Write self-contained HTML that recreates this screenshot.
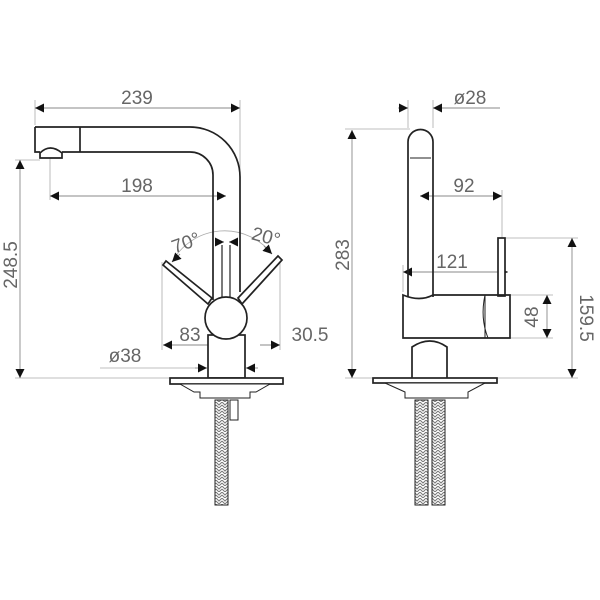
<!DOCTYPE html>
<html><head><meta charset="utf-8"><style>
html,body{margin:0;padding:0;background:#fff;}
svg{display:block;}
text{font-family:"Liberation Sans",sans-serif;fill:#666;font-size:19px;}
</style></head><body>
<svg width="600" height="600" viewBox="0 0 600 600" xmlns="http://www.w3.org/2000/svg">
<defs>
<marker id="a" viewBox="0 0 10 10" refX="10" refY="5" markerWidth="9" markerHeight="9" orient="auto-start-reverse" markerUnits="userSpaceOnUse"><path d="M0,0 L10,5 L0,10z" fill="#111"/></marker>
<pattern id="h" width="6" height="6" patternUnits="userSpaceOnUse"><path d="M0,0 L3,3 L6,0 M0,3 L3,6 L6,3" stroke="#777" stroke-width="1" fill="none"/></pattern>
</defs>
<g stroke="#aaa" stroke-width="0.8" fill="none">
<line x1="35" y1="100" x2="35" y2="125"/><line x1="240" y1="100" x2="240" y2="175"/>
<line x1="50" y1="158" x2="50" y2="200"/><line x1="15" y1="160" x2="40" y2="160"/>
<line x1="15" y1="378" x2="170" y2="378"/>
<line x1="162" y1="262" x2="162" y2="350"/><line x1="280" y1="258" x2="280" y2="350"/>
<line x1="226" y1="335" x2="226" y2="350"/>
<line x1="100" y1="368" x2="205" y2="368"/>
<path d="M172,262 A60,60 0 0 1 272,254"/>
<line x1="408" y1="100" x2="408" y2="128"/><line x1="433" y1="100" x2="433" y2="128"/>
<line x1="345" y1="129" x2="410" y2="129"/>
<line x1="345" y1="378" x2="375" y2="378"/>
<line x1="502" y1="190" x2="502" y2="238"/>
<line x1="505" y1="238" x2="578" y2="238"/>
<line x1="510" y1="295" x2="553" y2="295"/><line x1="510" y1="338" x2="553" y2="338"/>
<line x1="495" y1="378" x2="578" y2="378"/>
<line x1="403" y1="265" x2="403" y2="292"/>
</g>
<g stroke="#888" stroke-width="0.9" fill="none">
<line x1="35" y1="108" x2="240" y2="108" marker-start="url(#a)" marker-end="url(#a)"/>
<line x1="50" y1="196" x2="226" y2="196" marker-start="url(#a)" marker-end="url(#a)"/>
<line x1="20" y1="160" x2="20" y2="378" marker-start="url(#a)" marker-end="url(#a)"/>
<line x1="163" y1="345" x2="208" y2="345" marker-start="url(#a)"/>
<line x1="215" y1="242" x2="224" y2="242" marker-end="url(#a)"/>
<line x1="238" y1="242" x2="229" y2="242" marker-end="url(#a)"/>
<line x1="172" y1="262" x2="180" y2="254" marker-start="url(#a)"/>
<line x1="272" y1="254" x2="264" y2="246" marker-start="url(#a)"/>
<line x1="215" y1="345" x2="224" y2="345" marker-end="url(#a)"/>
<line x1="238" y1="345" x2="229" y2="345" marker-end="url(#a)"/>
<line x1="260" y1="345" x2="280" y2="345" marker-end="url(#a)"/>
<line x1="195" y1="368" x2="207" y2="368" marker-end="url(#a)"/>
<line x1="258" y1="368" x2="246" y2="368" marker-end="url(#a)"/>
<line x1="398" y1="108" x2="408" y2="108" marker-end="url(#a)"/>
<line x1="500" y1="108" x2="433" y2="108" marker-end="url(#a)"/>
<line x1="352" y1="130" x2="352" y2="378" marker-start="url(#a)" marker-end="url(#a)"/>
<line x1="420" y1="196" x2="502" y2="196" marker-start="url(#a)" marker-end="url(#a)"/>
<line x1="403" y1="272" x2="508" y2="272" marker-start="url(#a)" marker-end="url(#a)"/>
<line x1="547" y1="295" x2="547" y2="338" marker-start="url(#a)" marker-end="url(#a)"/>
<line x1="572" y1="238" x2="572" y2="378" marker-start="url(#a)" marker-end="url(#a)"/>
</g>
<g stroke="#222" stroke-width="1.7" fill="#fff">
<path d="M35,127 L190,127 A50,50 0 0 1 240,177 L240,292" fill="none"/>
<path d="M35,127 L35,152 L40,152 M62,152 L190,152 A23,23 0 0 1 213,175 L213,300" fill="none"/>
<line x1="80" y1="127" x2="80" y2="152"/>
<path d="M40,158 L40,153 Q50,143 62,153 L62,158 Z"/>
<line x1="222" y1="245" x2="222" y2="298" stroke-width="1.2"/><line x1="230" y1="245" x2="230" y2="298" stroke-width="1.2"/>
<path d="M163,265 L166,261 L212,298 L208,304 Z"/>
<path d="M278,256 L282,260 L242,304 L238,298 Z"/>
<rect x="208" y="335" width="37" height="43"/>
<circle cx="226" cy="318" r="21"/>
<rect x="170" y="378" width="113" height="6"/>
<path d="M180,384 L270,384 L256,392 L250,392 L250,398 L200,398 L200,392 L194,392 Z" stroke-width="1"/>
<rect x="230" y="400" width="8" height="20" stroke-width="1"/>
<rect x="215" y="400" width="13" height="105" fill="url(#h)" stroke-width="1"/>
</g>
<g stroke="#222" stroke-width="1.7" fill="#fff">
<path d="M408,297 L408,142 A12.5,12.5 0 0 1 433,142 L433,297" fill="none"/>
<line x1="410" y1="158" x2="431" y2="158" stroke-width="1"/>
<rect x="498" y="238" width="7" height="58"/>
<path d="M403,295 Q420,302 433,295 L510,295 L510,338 L403,338 Z" fill="none"/>
<path d="M485,295 L485,338 M485,295 Q480,318 488,338" stroke-width="1" fill="none"/>
<path d="M412,378 L412,347 Q430,335 447,347 L447,378"/>
<rect x="373" y="378" width="124" height="5"/>
<path d="M385,383 L485,383 L468,392 L468,398 L405,398 L405,392 Z" stroke-width="1"/>
<rect x="415" y="400" width="13" height="105" fill="url(#h)" stroke-width="1"/>
<rect x="432" y="400" width="13" height="105" fill="url(#h)" stroke-width="1"/>
</g>
<text x="137" y="104" text-anchor="middle">239</text>
<text x="137" y="192" text-anchor="middle">198</text>
<text x="186" y="249" text-anchor="middle" transform="rotate(-20 186 243)">70°</text>
<text x="266" y="243" text-anchor="middle" transform="rotate(15 266 237)">20°</text>
<text x="190" y="341" text-anchor="middle">83</text>
<text x="310" y="341" text-anchor="middle">30.5</text>
<text x="125" y="362" text-anchor="middle">ø38</text>
<text x="0" y="0" text-anchor="middle" transform="translate(17,265) rotate(-90)">248.5</text>
<text x="470" y="104" text-anchor="middle">ø28</text>
<text x="464" y="192" text-anchor="middle">92</text>
<text x="452" y="268" text-anchor="middle">121</text>
<text x="0" y="0" text-anchor="middle" transform="translate(349,255) rotate(-90)">283</text>
<text x="0" y="0" text-anchor="middle" transform="translate(538,317) rotate(-90)">48</text>
<text x="0" y="0" text-anchor="middle" transform="translate(580,318) rotate(90)">159.5</text>
</svg>
</body></html>
